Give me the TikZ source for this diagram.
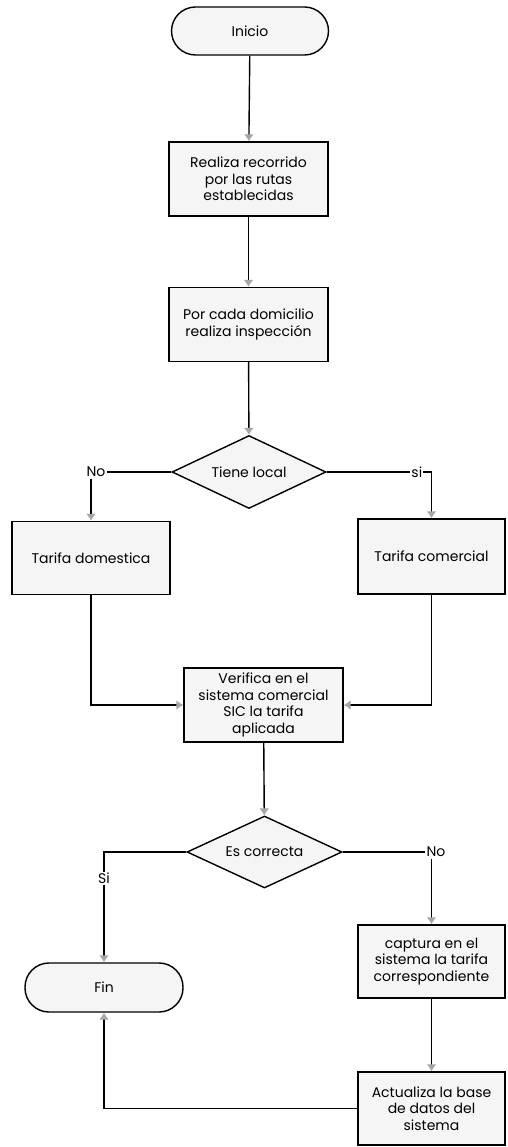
\documentclass[tikz,border=0pt]{standalone}
\usepackage{fontspec}
\setmainfont{Poppins}
\usetikzlibrary{arrows.meta, positioning, shapes.geometric}

\begin{document}
\begin{tikzpicture}[
    x=1pt, y=-1pt,
    font=\fontsize{14}{16.5}\selectfont,
    line width=1.4pt,
    box/.style={draw, fill=gray!8, minimum width=159pt, minimum height=74pt, inner sep=2pt, align=center},
    term/.style={draw, fill=gray!8, rounded corners=24pt, minimum width=157pt, minimum height=48pt},
    dec/.style={draw, diamond, fill=gray!8, aspect=2.1, minimum width=154pt, minimum height=73pt, inner sep=0pt},
    lbl/.style={fill=white, inner sep=1pt},
    arr/.style={-{Latex[length=7pt, width=10pt, color=gray!70]}}
  ]
  \fill[white, use as bounding box] (0,0) rectangle (507,1147);

  \node[term] (inicio) at (250,31) {Inicio};
  \node[box] (recorrido) at (248.5,179) {Realiza recorrido\\por las rutas\\establecidas};
  \node[box] (inspeccion) at (248.5,324.5) {Por cada domicilio\\realiza inspección};
  \node[dec] (local) at (249,472) {Tiene local};
  \node[box, minimum width=158pt, minimum height=73pt] (domestica) at (91,558) {Tarifa domestica};
  \node[box, minimum width=147pt, minimum height=75pt] (comercial) at (431.5,556.5) {Tarifa comercial};
  \node[box] (verifica) at (263.5,705) {Verifica en el\\sistema comercial\\SIC la tarifa\\aplicada};
  \node[dec, minimum width=155pt, minimum height=72pt] (correcta) at (264.5,852) {Es correcta};
  \node[term, minimum width=158pt, minimum height=49pt] (fin) at (104,987.5) {Fin};
  \node[box, minimum width=147pt, minimum height=73pt] (captura) at (431.5,961.5) {captura en el\\sistema la tarifa\\correspondiente};
  \node[box, minimum width=147pt, minimum height=73pt] (actualiza) at (431.5,1108.5) {Actualiza la base\\de datos del\\sistema};

  \node[lbl] (nolocal) at (96,472) {No};
  \node[lbl] (nocorrecta) at (436,852) {No};

  \draw[arr] (inicio) -- (recorrido);
  \draw[arr] (recorrido) -- (inspeccion);
  \draw[arr] (inspeccion) -- (local);
  \draw (local.west) -- (nolocal.east);
  \draw[arr] (nolocal.south -| domestica.north) -- (domestica.north);
  \draw[arr] (local.east) -| node[lbl, pos=0.43] (silocal) {si} (comercial.north);
  \draw[arr] (domestica.south) |- (verifica.west);
  \draw[arr] (comercial.south) |- (verifica.east);
  \draw[arr] (verifica) -- (correcta);
  \draw[arr] (correcta.west) -| node[lbl, pos=0.62] (sicorrecta) {Si} (fin.north);
  \draw (correcta.east) -- (nocorrecta.west);
  \draw[arr] (nocorrecta.south -| captura.north) -- (captura.north);
  \draw[arr] (captura) -- (actualiza);
  \draw[arr] (actualiza.west) -| (fin.south);
\end{tikzpicture}
\end{document}
